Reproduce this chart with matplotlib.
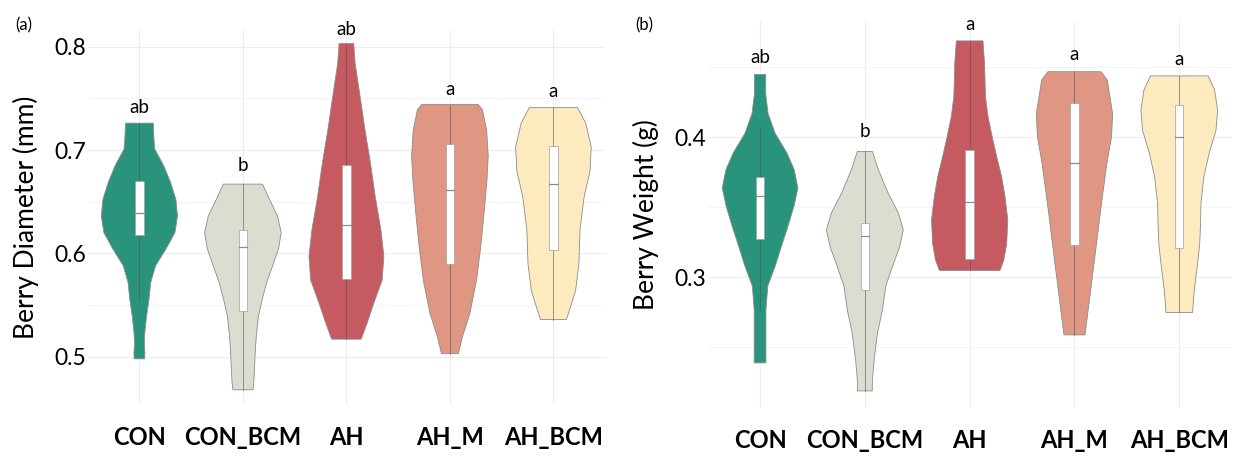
import matplotlib
matplotlib.use("Agg")
import matplotlib.pyplot as plt
import numpy as np

plt.rcParams['font.family'] = ['Lato', 'DejaVu Sans']

groups = ['CON', 'CON_BCM', 'AH', 'AH_M', 'AH_BCM']
colors = ['#2A937C', '#DADED1', '#C55A61', '#DF9783', '#FDEABF']

# panel (a): violin outlines, value -> half width
dia_y = {
    'CON': [0.726, 0.712, 0.701, 0.685, 0.669, 0.652, 0.636, 0.620, 0.604, 0.588, 0.572, 0.555, 0.539, 0.523, 0.513, 0.504, 0.498],
    'CON_BCM': [0.667, 0.652, 0.636, 0.620, 0.604, 0.588, 0.572, 0.555, 0.539, 0.523, 0.507, 0.491, 0.475, 0.468],
    'AH': [0.803, 0.784, 0.752, 0.719, 0.687, 0.655, 0.623, 0.597, 0.574, 0.552, 0.532, 0.517],
    'AH_M': [0.744, 0.739, 0.719, 0.694, 0.671, 0.639, 0.606, 0.574, 0.542, 0.519, 0.503],
    'AH_BCM': [0.741, 0.726, 0.703, 0.680, 0.655, 0.623, 0.590, 0.564, 0.548, 0.536],
}
dia_w = {
    'CON': [0.134, 0.14, 0.148, 0.234, 0.30, 0.353, 0.368, 0.343, 0.255, 0.156, 0.11, 0.092, 0.069, 0.052, 0.047, 0.053, 0.05],
    'CON_BCM': [0.189, 0.258, 0.335, 0.37, 0.343, 0.287, 0.23, 0.185, 0.15, 0.132, 0.12, 0.113, 0.105, 0.097],
    'AH': [0.071, 0.084, 0.132, 0.18, 0.233, 0.278, 0.333, 0.362, 0.345, 0.265, 0.198, 0.143],
    'AH_M': [0.273, 0.314, 0.355, 0.37, 0.358, 0.33, 0.297, 0.257, 0.193, 0.12, 0.082],
    'AH_BCM': [0.233, 0.312, 0.365, 0.354, 0.297, 0.257, 0.246, 0.214, 0.164, 0.125],
}
dia_q1 = [0.618, 0.544, 0.575, 0.590, 0.603]
dia_med = [0.6395, 0.606, 0.627, 0.661, 0.667]
dia_q3 = [0.670, 0.623, 0.6855, 0.706, 0.704]
dia_wlo = [0.555, 0.468, 0.517, 0.503, 0.536]
dia_whi = [0.726, 0.667, 0.803, 0.744, 0.741]
dia_letters = ['ab', 'b', 'ab', 'a', 'a']
dia_letter_y = [0.741, 0.685, 0.817, 0.759, 0.757]

# panel (b)
wt_y = {
    'CON': [0.445, 0.431, 0.417, 0.403, 0.389, 0.377, 0.364, 0.351, 0.336, 0.322, 0.308, 0.294, 0.277, 0.253, 0.239],
    'CON_BCM': [0.390, 0.377, 0.360, 0.346, 0.334, 0.322, 0.308, 0.294, 0.277, 0.260, 0.241, 0.227, 0.219],
    'AH': [0.469, 0.453, 0.429, 0.415, 0.4006, 0.386, 0.372, 0.358, 0.341, 0.324, 0.3125, 0.305],
    'AH_M': [0.447, 0.441, 0.417, 0.4006, 0.382, 0.3625, 0.343, 0.324, 0.305, 0.286, 0.267, 0.259],
    'AH_BCM': [0.444, 0.434, 0.4196, 0.405, 0.389, 0.372, 0.353, 0.3387, 0.324, 0.310, 0.291, 0.275],
}
wt_w = {
    'CON': [0.054, 0.054, 0.077, 0.144, 0.256, 0.326, 0.361, 0.324, 0.264, 0.203, 0.144, 0.074, 0.056, 0.056, 0.056],
    'CON_BCM': [0.072, 0.128, 0.224, 0.32, 0.367, 0.332, 0.264, 0.20, 0.168, 0.12, 0.088, 0.072, 0.07],
    'AH': [0.127, 0.142, 0.151, 0.175, 0.215, 0.259, 0.305, 0.337, 0.364, 0.353, 0.326, 0.289],
    'AH_M': [0.254, 0.313, 0.364, 0.354, 0.31, 0.275, 0.241, 0.21, 0.178, 0.146, 0.114, 0.10],
    'AH_BCM': [0.275, 0.337, 0.366, 0.35, 0.286, 0.235, 0.207, 0.203, 0.195, 0.175, 0.143, 0.127],
}
wt_q1 = [0.3274, 0.2912, 0.313, 0.3232, 0.3213]
wt_med = [0.358, 0.3297, 0.354, 0.3816, 0.4006]
wt_q3 = [0.372, 0.3392, 0.391, 0.4244, 0.423]
wt_wlo = [0.2758, 0.219, 0.305, 0.259, 0.275]
wt_whi = [0.4064, 0.390, 0.469, 0.447, 0.444]
wt_letters = ['ab', 'b', 'a', 'a', 'a']
wt_letter_y = [0.457, 0.4046, 0.481, 0.459, 0.456]


def draw_panel(ax, ys, ws, q1, med, q3, wlo, whi, letters, letter_y):
    for i, g in enumerate(groups):
        y = np.array(ys[g])
        w = np.array(ws[g])
        xs = np.concatenate([i - w, (i + w)[::-1]])
        yy = np.concatenate([y, y[::-1]])
        ax.fill(xs, yy, facecolor=colors[i], edgecolor='#8C8C8C', lw=0.6,
                joinstyle='round', zorder=2)
        ax.plot([i, i], [wlo[i], whi[i]], color='#555555', lw=0.6, alpha=0.7, zorder=3)
        ax.add_patch(plt.Rectangle((i - 0.04, q1[i]), 0.08, q3[i] - q1[i],
                                   facecolor='white', edgecolor='#A0A0A0', lw=0.5, zorder=4))
        ax.plot([i - 0.04, i + 0.04], [med[i], med[i]], color='#8C8C8C', lw=0.9, zorder=5)
        ax.text(i, letter_y[i], letters[i], ha='center', va='center', fontsize=13.5,
                clip_on=False, zorder=6)
    ax.set_xlim(-0.5, 4.5)
    ax.set_xticks(range(5))
    ax.set_xticklabels(groups, fontsize=17, fontweight='bold')
    for s in ax.spines.values():
        s.set_visible(False)
    ax.tick_params(length=0, axis='y', labelsize=16.5, pad=1)
    ax.tick_params(length=0, axis='x', pad=15)
    ax.tick_params(which='minor', length=0)
    ax.grid(True, which='major', color='#EDEDED', lw=0.8, zorder=0)
    ax.grid(True, which='minor', axis='y', color='#F3F3F3', lw=0.6, zorder=0)
    ax.set_axisbelow(True)


fig = plt.figure(figsize=(12.45, 4.57), dpi=100)
ax1 = fig.add_axes([0.0704, 0.1131, 0.4157, 0.821])
ax2 = fig.add_axes([0.5684, 0.1079, 0.4209, 0.8455])

draw_panel(ax1, dia_y, dia_w, dia_q1, dia_med, dia_q3, dia_wlo, dia_whi, dia_letters, dia_letter_y)
ax1.set_ylim(0.453, 0.816)
ax1.set_yticks([0.5, 0.6, 0.7, 0.8])
ax1.set_yticks([0.55, 0.65, 0.75], minor=True)
ax1.set_ylabel('Berry Diameter (mm)', fontsize=19, labelpad=11)

draw_panel(ax2, wt_y, wt_w, wt_q1, wt_med, wt_q3, wt_wlo, wt_whi, wt_letters, wt_letter_y)
ax2.set_ylim(0.207, 0.483)
ax2.set_yticks([0.3, 0.4])
ax2.set_yticks([0.25, 0.35, 0.45], minor=True)
ax2.set_ylabel('Berry Weight (g)', fontsize=19, labelpad=11)

fig.text(0.012, 0.945, '(a)', fontsize=12, va='center')
fig.text(0.51, 0.945, '(b)', fontsize=12, va='center')

fig.savefig('out.png', dpi=100)
